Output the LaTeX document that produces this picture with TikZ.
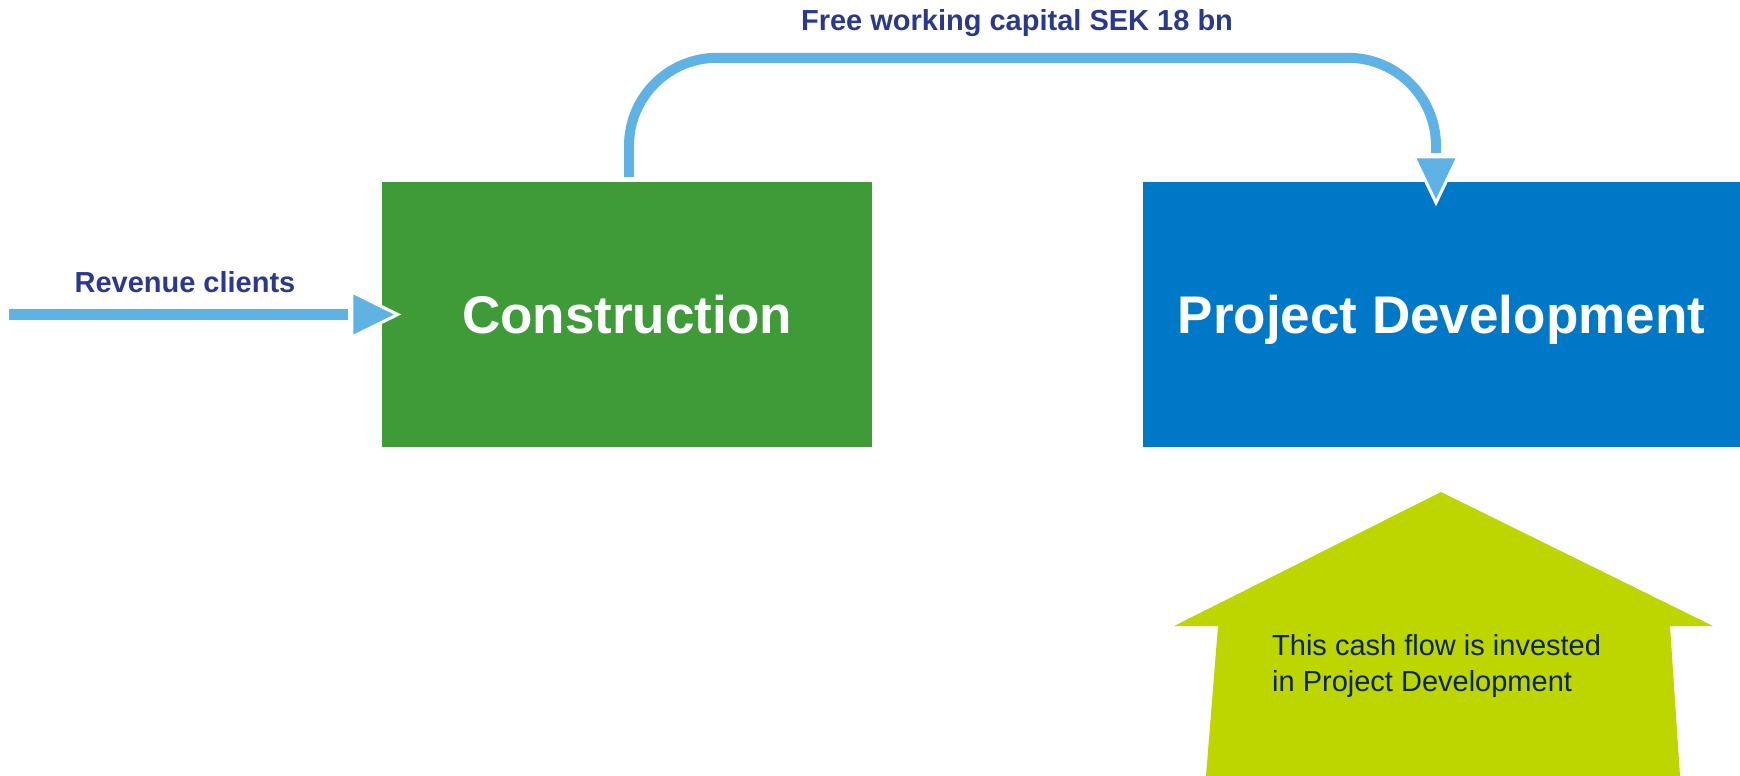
\documentclass[tikz,border=0pt]{standalone}
\usepackage{fontspec}
\setmainfont{Liberation Sans}
\usetikzlibrary{calc}
\definecolor{flowblue}{RGB}{94,179,228}
\definecolor{congreen}{RGB}{62,155,55}
\definecolor{pdblue}{RGB}{0,120,200}
\definecolor{limegreen}{RGB}{189,214,0}
\definecolor{labelnavy}{RGB}{42,57,141}
\definecolor{cashnavy}{RGB}{13,36,75}
\begin{document}
\begin{tikzpicture}[x=1pt,y=-1pt,
  box/.style={rectangle, inner sep=0pt, text=white,
    font=\fontsize{53}{60}\selectfont\bfseries,
    minimum height=265pt, text height=38pt, text depth=0pt},
  lbl/.style={text=labelnavy, font=\fontsize{29}{34}\selectfont\bfseries,
    inner sep=0pt, anchor=base},
  flow/.style={draw=flowblue},
  head/.style={fill=flowblue, draw=white, line width=3pt, line join=miter}]
\useasboundingbox (0,0) rectangle (1740,776);

% boxes
\node[box, fill=congreen, minimum width=490pt] (con) at (627,314.5) {Construction};
\node[box, fill=pdblue, minimum width=597pt] (pd) at (1441.5,314.5) {Project Development};

% revenue arrow
\coordinate (rstart) at (9,314.5);
\coordinate (rtip) at ($(con.west)+(16,0)$);
\draw[flow, line width=11pt] (rstart) -- ($(rtip)+(-50,0)$);
\draw[head] ($(rtip)+(-46,-22.5)$) -- (rtip) -- ($(rtip)+(-46,22.5)$) -- cycle;
\node[lbl] (rev) at (185,292) {Revenue clients};

% free working capital arrow
\coordinate (cstart) at ($(con.north)+(2,-5)$);
\coordinate (ptip) at ($(pd.north)+(-5.5,21)$);
\draw[flow, line width=10pt, rounded corners=88pt] (cstart) |- ($(ptip)+(0,-145)$) -- ($(ptip)+(0,-50)$);
\draw[head] ($(ptip)+(-22,-46)$) -- ($(ptip)+(22,-46)$) -- (ptip) -- cycle;
\node[lbl] (fwc) at (1017,31) {Free working capital SEK 18 bn};

% cash flow arrow
\fill[limegreen] (1441,492) -- (1713,626) -- (1670,626) -- (1680,776)
  -- (1206,776) -- (1218,626) -- (1174,626) -- cycle;
\node[anchor=north west, align=left, inner sep=0pt, text=cashnavy,
  font=\fontsize{29}{36}\selectfont] (cash) at (1272,634)
  {This cash flow is invested\\in Project Development};
\end{tikzpicture}
\end{document}
